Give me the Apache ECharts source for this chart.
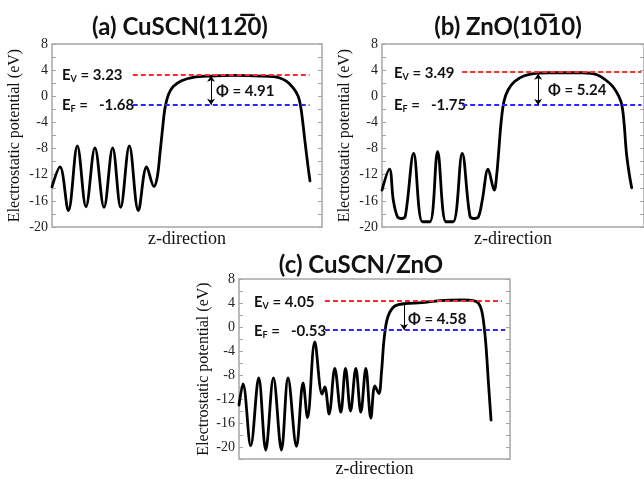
<!DOCTYPE html>
<html><head><meta charset="utf-8">
<script src="https://cdn.jsdelivr.net/npm/echarts@6/dist/echarts.min.js"></script>
<style>html,body{margin:0;padding:0;background:#fff}#c{width:644px;height:479px}</style>
</head><body><div id="c"></div>
<script>
// ---- data (z in % of panel width, potential in eV) ----
const zA = [0, 2.96, 6.05, 9.38, 12.6, 15.9, 19.26, 22.47, 25.43, 28.64, 31.98, 35.06, 37.78, 39.0, 40.0, 40.9, 41.85, 43.1, 44.9, 48.0, 52.3, 58.5, 67.2, 77.0, 82.0, 84.4, 86.9, 89.4, 91.2, 92.1, 92.85, 93.7, 94.9, 95.55];
const vA = [-13.85, -10.8, -17.5, -7.6, -16.9, -7.9, -17.0, -7.9, -17.0, -7.6, -17.5, -10.8, -13.8, -12.3, -8.7, -5.15, -1.8, 0.25, 1.5, 2.37, 2.9, 3.1, 3.2, 3.1, 3.0, 2.79, 2.27, 1.25, -0.03, -1.56, -3.86, -6.93, -11.0, -12.95];

const zB = [0, 2.84, 4.32, 5.93, 7.41, 8.89, 12.1, 15.43, 18.27, 21.23, 24.44, 27.16, 30.6, 33.58, 35.19, 36.79, 38.27, 40.5, 42.84, 43.83, 44.69, 45.43, 46.54, 48.15, 50.62, 54.32, 59.26, 64.2, 76.5, 82.0, 86.9, 89.4, 91.2, 91.85, 92.5, 93.3, 94.3, 95.3];
const vB = [-14.36, -11.14, -15.9, -18.46, -18.7, -18.36, -8.73, -19.2, -19.2, -8.48, -19.2, -19.2, -8.73, -18.36, -18.7, -18.46, -15.9, -11.14, -14.36, -11.8, -7.7, -4.1, -0.8, 1.0, 2.27, 3.14, 3.55, 3.6, 3.6, 3.3, 2.0, 0.74, -0.8, -2.07, -4.6, -8.7, -11.7, -14.0];

const zC = [0, 1.48, 4.32, 7.28, 9.86, 12.71, 15.66, 18.1, 21.2, 23.64, 25.27, 27.96, 30.66, 31.66, 33.25, 35.35, 37.57, 39.3, 41.15, 43.11, 44.96, 46.8, 48.65, 50.13, 51.6, 52.6, 53.45, 54.45, 55.67, 57.5, 61.2, 67.4, 74.1, 82.7, 86.4, 88.3, 89.5, 90.4, 91.2, 92.0, 93.0];
const vC = [-13.0, -9.5, -19.8, -8.5, -20.5, -8.5, -20.5, -8.5, -19.9, -9.3, -15.1, -2.5, -11.2, -10.0, -14.5, -6.9, -14.2, -6.9, -14.0, -6.9, -14.2, -6.9, -15.2, -9.8, -11.1, -7.4, -2.4, 0.9, 2.5, 3.5, 3.9, 4.05, 4.4, 4.5, 4.4, 4.0, 2.8, 0.3, -3.5, -9.0, -15.5];

const yTickLabels = [-20, -16, -12, -8, -4, 0, 4, 8];
const panelTitles = ['(a) CuSCN(112\u03050)', '(b) ZnO(10\u030510)', '(c) CuSCN/ZnO'];
const evLabels = ['3.23', '3.49', '4.05'];
const efLabels = ['-1.68', '-1.75', '-0.53'];
const phiLabels = ['4.91', '5.24', '4.58'];
const evLevels = [3.3, 3.7, 4.43];     // red dashed line level as drawn
const efLevels = [-1.3, -1.33, -0.5];  // blue dashed line level as drawn
const arrowTop = [3.15, 3.45, 3.9];
const yMins = [-20, -20, -22];
const yMax = 8;

// ---- layout / styles ----
const grids = [
  {left: 52, right: 322, top: 44, bottom: 252},
  {left: 382, right: -8, top: 44, bottom: 252},
  {left: 239, right: 134, top: 279, bottom: 17}
];
const dashRange = [[29.9, 95.4, 95.4], [30.6, 99, 99], [31.7, 97, 98.2]]; // start, red end, blue end
const arrowX = [58.9, 59.6, 60.9];
const arrowBoth = [true, true, false];
const yNameGap = [29, 29, 27];
const xNameGap = [3, 3, 1];
const titlePos = [[180, 27], [508, 27], [361, 265]];
const evPos = [[62, 75], [394, 73], [254, 302]];
const efPos = [[62, 105], [394, 105], [254, 331]];
const phiPos = [[216, 91], [548, 90], [408, 319]];

const serif = '"Liberation Serif", "Times New Roman", serif';
const sans = 'Lato, "Open Sans", sans-serif';
const boxColor = '#a6a6a6';

const curves = [[zA, vA], [zB, vB], [zC, vC]];
const option = {
  animation: false,
  grid: grids.map(g => Object.assign({show: true, borderColor: boxColor, borderWidth: 1.5, backgroundColor: 'transparent'}, g)),
  xAxis: grids.map((g, i) => ({
    type: 'value', gridIndex: i, min: 0, max: 100,
    axisLine: {show: false}, axisTick: {show: false}, axisLabel: {show: false}, splitLine: {show: false},
    name: 'z-direction', nameLocation: 'middle', nameGap: xNameGap[i],
    nameTextStyle: {fontFamily: serif, fontSize: 18, color: '#111', verticalAlign: 'top'}
  })),
  yAxis: [],
  series: [],
  graphic: []
};
for (let side = 0; side < 2; side++) {
  grids.forEach((g, i) => {
    option.yAxis.push({
      type: 'value', gridIndex: i, position: side ? 'right' : 'left',
      min: yMins[i], max: yMax, interval: 2,
      axisLine: {show: false},
      axisTick: {show: true, inside: true, length: 4, lineStyle: {color: boxColor, width: 1}},
      splitLine: {show: false},
      axisLabel: side ? {show: false} : {
        show: true, margin: 4, fontFamily: serif, fontSize: 14, color: '#222',
        formatter: v => (yTickLabels.indexOf(v) >= 0 ? String(v) : '')
      },
      name: side ? '' : 'Electrostatic potential (eV)',
      nameLocation: 'middle', nameGap: yNameGap[i], nameRotate: 90,
      nameTextStyle: {fontFamily: serif, fontSize: 16, color: '#111'}
    });
  });
}
curves.forEach(([zs, vs], i) => {
  const dr = dashRange[i];
  option.series.push({
    type: 'line', xAxisIndex: i, yAxisIndex: i,
    data: zs.map((z, k) => [z, vs[k]]),
    showSymbol: false, smooth: 0.36, silent: true,
    lineStyle: {color: '#000', width: 2.8, join: 'round', cap: 'round'},
    z: 3,
    markLine: {
      silent: true, animation: false, label: {show: false}, symbol: 'none',
      data: [
        [{coord: [dr[0], evLevels[i]], lineStyle: {color: '#ff2b2b', type: [5, 3], width: 1.8}}, {coord: [dr[1], evLevels[i]]}],
        [{coord: [dr[0], efLevels[i]], lineStyle: {color: '#2b2bff', type: [5, 3], width: 1.8}}, {coord: [dr[2], efLevels[i]]}],
        [{coord: [arrowX[i], arrowTop[i]], symbol: arrowBoth[i] ? 'arrow' : 'none', symbolSize: 6, lineStyle: {color: '#000', type: 'solid', width: 1}},
         {coord: [arrowX[i], efLevels[i]], symbol: 'arrow', symbolSize: 6}]
      ]
    }
  });
});
const subRich = {
  e: {font: 'bold 15px ' + sans, fill: '#111', lineHeight: 18},
  s: {font: 'bold 9px ' + sans, fill: '#111', lineHeight: 8, verticalAlign: 'bottom'}
};
for (let i = 0; i < 3; i++) {
  option.graphic.push({
    type: 'text', x: titlePos[i][0], y: titlePos[i][1], silent: true,
    style: {text: panelTitles[i], font: 'bold 24px ' + sans, fill: '#111', textAlign: 'center', textVerticalAlign: 'middle'}
  });
  option.graphic.push({
    type: 'text', x: evPos[i][0], y: evPos[i][1], silent: true,
    style: {text: '{e|E}{s|V}{e| = ' + evLabels[i] + '}', rich: subRich, textAlign: 'left', textVerticalAlign: 'middle'}
  });
  option.graphic.push({
    type: 'text', x: efPos[i][0], y: efPos[i][1], silent: true,
    style: {text: '{e|E}{s|F}{e| =   ' + efLabels[i] + '}', rich: subRich, textAlign: 'left', textVerticalAlign: 'middle'}
  });
  option.graphic.push({
    type: 'text', x: phiPos[i][0], y: phiPos[i][1], silent: true,
    style: {text: '\u03A6 = ' + phiLabels[i], font: 'bold 15px ' + sans, fill: '#111', textAlign: 'left', textVerticalAlign: 'middle'}
  });
}
const chart = echarts.init(document.getElementById('c'), null, {renderer: 'canvas'});
chart.setOption(option);
</script>
</body></html>
